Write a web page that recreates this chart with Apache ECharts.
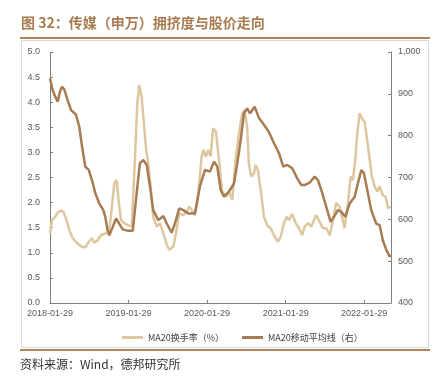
<!DOCTYPE html>
<html><head><meta charset="utf-8">
<script src="https://cdn.jsdelivr.net/npm/echarts@6/dist/echarts.min.js"></script>
<style>html,body{margin:0;padding:0;background:#fff}#c{width:438px;height:377px}</style>
</head><body><div id="c"></div>
<script>
// Data
var titleText = '图 32：传媒（申万）拥挤度与股价走向';
var sourceText = '资料来源：Wind，德邦研究所';
var seriesNames = ['MA20换手率（%）', 'MA20移动平均线（右）'];
var xTickLabels = ['2018-01-29','2019-01-29','2020-01-29','2021-01-29','2022-01-29'];
var xRange = ['2018-01-29','2022-06-03'];
var leftTicks = [0,0.5,1,1.5,2,2.5,3,3.5,4,4.5,5];
var rightTicks = [400,500,600,700,800,900,1000];

var turnoverDates = ['2018-01-29','2018-02-07','2018-02-23','2018-03-06','2018-03-21','2018-04-01','2018-04-13','2018-04-29','2018-05-15','2018-06-07','2018-06-30','2018-07-15','2018-07-28','2018-08-12','2018-08-23','2018-09-08','2018-09-23','2018-10-16','2018-11-01','2018-11-13','2018-11-24','2018-12-05','2018-12-14','2018-12-25','2019-01-09','2019-01-25','2019-02-13','2019-02-28','2019-03-11','2019-03-20','2019-03-31','2019-04-08','2019-04-20','2019-05-01','2019-05-12','2019-05-24','2019-06-09','2019-06-24','2019-07-10','2019-07-26','2019-08-07','2019-08-25','2019-09-07','2019-09-22','2019-10-11','2019-10-27','2019-11-08','2019-11-19','2019-12-04','2019-12-20','2020-01-04','2020-01-12','2020-01-24','2020-02-04','2020-02-15','2020-02-27','2020-03-11','2020-03-25','2020-04-09','2020-04-30','2020-05-10','2020-05-26','2020-06-10','2020-06-26','2020-07-11','2020-07-22','2020-08-03','2020-08-11','2020-08-22','2020-09-04','2020-09-11','2020-09-22','2020-10-05','2020-10-20','2020-11-04','2020-11-20','2020-12-06','2020-12-24','2021-01-06','2021-01-21','2021-02-03','2021-02-13','2021-03-01','2021-03-17','2021-04-01','2021-04-16','2021-04-27','2021-05-13','2021-05-28','2021-06-20','2021-07-06','2021-07-21','2021-08-06','2021-08-22','2021-09-06','2021-09-21','2021-10-07','2021-10-22','2021-10-30','2021-11-15','2021-11-27','2021-12-08','2021-12-19','2021-12-28','2022-01-08','2022-01-19','2022-01-31','2022-02-12','2022-02-24','2022-03-06','2022-03-19','2022-03-31','2022-04-11','2022-04-26','2022-05-09','2022-05-20','2022-06-01'];
var turnoverValues = [1.39,1.65,1.72,1.80,1.84,1.82,1.69,1.45,1.29,1.18,1.11,1.12,1.22,1.29,1.20,1.25,1.35,1.39,1.45,1.92,2.38,2.45,2.05,1.65,1.59,1.55,1.52,2.85,3.98,4.34,4.11,3.71,3.11,2.78,2.32,1.72,1.52,1.59,1.39,1.16,1.06,1.12,1.39,1.79,1.75,1.82,1.92,1.85,1.75,2.18,2.91,3.05,2.91,3.05,2.92,3.48,3.41,2.85,2.22,2.12,2.22,2.05,2.85,3.38,3.78,3.84,3.51,2.78,2.52,2.58,2.75,2.65,2.25,1.72,1.55,1.49,1.35,1.22,1.32,1.59,1.72,1.65,1.77,1.59,1.49,1.35,1.52,1.59,1.52,1.75,1.62,1.49,1.49,1.35,1.65,1.99,1.92,1.65,1.49,1.99,2.52,2.45,2.85,3.38,3.78,3.68,3.61,3.25,2.85,2.52,2.32,2.22,2.32,2.15,2.12,1.89,1.92];

var maDates = ['2018-01-29','2018-02-10','2018-02-21','2018-03-06','2018-03-16','2018-03-26','2018-04-05','2018-04-21','2018-05-07','2018-05-30','2018-06-14','2018-06-27','2018-07-12','2018-07-28','2018-08-12','2018-08-28','2018-09-15','2018-10-04','2018-10-13','2018-10-24','2018-11-01','2018-11-17','2018-12-02','2018-12-17','2019-01-02','2019-01-25','2019-02-18','2019-03-08','2019-03-23','2019-04-08','2019-04-24','2019-05-09','2019-05-24','2019-06-17','2019-07-10','2019-07-26','2019-08-18','2019-09-02','2019-09-22','2019-10-11','2019-11-03','2019-12-04','2019-12-27','2020-01-20','2020-02-12','2020-03-02','2020-03-17','2020-04-02','2020-04-17','2020-05-10','2020-06-03','2020-06-18','2020-07-04','2020-07-19','2020-08-03','2020-08-16','2020-09-07','2020-09-27','2020-10-20','2020-11-12','2020-12-06','2020-12-29','2021-01-18','2021-02-05','2021-03-01','2021-03-24','2021-04-12','2021-04-27','2021-05-21','2021-06-13','2021-06-28','2021-07-14','2021-08-06','2021-08-26','2021-09-11','2021-09-29','2021-10-15','2021-11-02','2021-11-23','2021-12-16','2021-12-31','2022-01-16','2022-01-28','2022-02-16','2022-03-03','2022-03-26','2022-04-11','2022-04-26','2022-05-12','2022-05-28','2022-06-03'];
var maValues = [937,909,895,881,905,917,911,885,861,850,822,774,726,718,694,662,638,622,606,574,562,582,602,590,576,573,573,662,734,742,730,678,622,598,608,590,568,590,626,622,614,614,678,718,714,738,726,670,654,666,686,734,790,853,865,853,869,842,826,809,782,758,726,730,722,698,682,682,688,702,694,670,630,594,606,622,618,606,638,654,686,718,710,662,622,590,586,550,527,511,515];

var lightColor = '#dcc79f';
var darkColor = '#a87c52';
var titleColor = '#a87b50';

function ts(s){ return Date.parse(s); }
function pairs(d, v){ return d.map(function(x,i){ return [ts(x), v[i]]; }); }
function pad(n){ return (n<10?'0':'')+n; }
function fmtDate(t){ var d=new Date(t); return d.getUTCFullYear()+'-'+pad(d.getUTCMonth()+1)+'-'+pad(d.getUTCDate()); }
var xTickValues = xTickLabels.map(ts);

var chart = echarts.init(document.getElementById('c'), null, {renderer:'canvas'});
var axisGray = '#808080';
var labelGray = '#595959';
var font = 'Liberation Sans, Arial, sans-serif';
chart.setOption({
  animation:false,
  backgroundColor:'#fff',
  graphic:[
    {type:'text', x:21, y:23, style:{text:titleText, fill:titleColor, verticalAlign:'middle', font:'bold 14px "Noto Sans CJK SC", sans-serif'}},
    {type:'rect', shape:{x:21.5, y:40.5, width:407, height:307}, style:{fill:'none', stroke:'#d9d9d9', lineWidth:1}},
    {type:'line', shape:{x1:20, y1:38, x2:430, y2:38}, style:{stroke:'#b08455', lineWidth:2}},
    {type:'line', shape:{x1:20, y1:350, x2:430, y2:350}, style:{stroke:'#b08455', lineWidth:2}},
    {type:'text', x:20, y:364, style:{text:sourceText, fill:'#333', verticalAlign:'middle', font:'12px "Noto Sans CJK SC", sans-serif'}}
  ],
  legend:{
    data:seriesNames, top:328, left:117, itemWidth:21, itemHeight:3, icon:'rect', itemGap:18,
    textStyle:{fontSize:9, color:'#404040', fontFamily:'"Noto Sans CJK SC", sans-serif'}
  },
  grid:{left:50, right:47, top:52, bottom:74, containLabel:false},
  xAxis:{
    type:'value', min:ts(xRange[0]), max:ts(xRange[1]),
    axisLine:{show:true, lineStyle:{color:axisGray}},
    axisTick:{show:true, inside:true, length:3, customValues:xTickValues, lineStyle:{color:axisGray}},
    axisLabel:{customValues:xTickValues, color:labelGray, fontSize:9, fontFamily:font, margin:6, formatter:function(v){ return fmtDate(v); }},
    splitLine:{show:false}
  },
  yAxis:[
    {type:'value', min:0, max:5, interval:0.5,
     axisLine:{show:true, lineStyle:{color:axisGray}},
     axisTick:{show:true, inside:true, length:3, lineStyle:{color:axisGray}},
     axisLabel:{color:labelGray, fontSize:9, fontFamily:font, margin:10, formatter:function(v){return v.toFixed(1);}},
     splitLine:{show:false}},
    {type:'value', min:400, max:1000, interval:100, position:'right',
     axisLine:{show:true, lineStyle:{color:axisGray}},
     axisTick:{show:true, inside:true, length:3, lineStyle:{color:axisGray}},
     axisLabel:{color:labelGray, fontSize:9, fontFamily:font, margin:7, formatter:function(v){return v.toLocaleString('en-US');}},
     splitLine:{show:false}}
  ],
  series:[
    {name:seriesNames[0], type:'line', yAxisIndex:0, data:pairs(turnoverDates, turnoverValues), showSymbol:false, symbol:'none', lineStyle:{color:lightColor, width:2.5}, itemStyle:{color:lightColor}},
    {name:seriesNames[1], type:'line', yAxisIndex:1, data:pairs(maDates, maValues), showSymbol:false, symbol:'none', lineStyle:{color:darkColor, width:2.5}, itemStyle:{color:darkColor}}
  ]
});
</script></body></html>
